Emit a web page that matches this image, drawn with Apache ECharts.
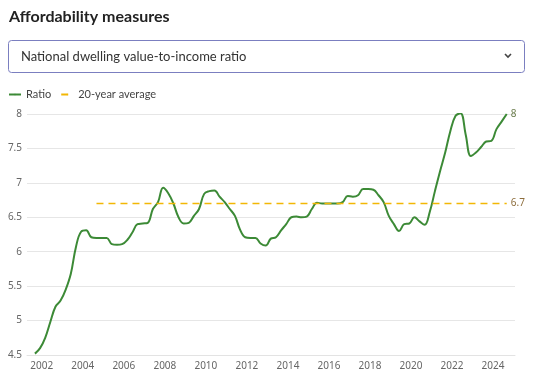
<!DOCTYPE html>
<html><head><meta charset="utf-8">
<script src="https://cdn.jsdelivr.net/npm/echarts@6/dist/echarts.min.js"></script>
<style>html,body{margin:0;padding:0;background:#fff}#c{width:550px;height:383px}</style>
</head><body><div id="c"></div>
<script>
const dates = ["2001-09","2001-12","2002-03","2002-06","2002-09","2002-12","2003-03","2003-06","2003-09","2003-12",
"2004-03","2004-06","2004-09","2004-12","2005-03","2005-06","2005-09","2005-12","2006-03","2006-06","2006-09","2006-12",
"2007-03","2007-06","2007-09","2007-12","2008-03","2008-06","2008-09","2008-12","2009-03","2009-06","2009-09","2009-12",
"2010-03","2010-06","2010-09","2010-12","2011-03","2011-06","2011-09","2011-12","2012-03","2012-06","2012-09","2012-12",
"2013-03","2013-06","2013-09","2013-12","2014-03","2014-06","2014-09","2014-12","2015-03","2015-06","2015-09","2015-12",
"2016-03","2016-06","2016-09","2016-12","2017-03","2017-06","2017-09","2017-12","2018-03","2018-06","2018-09","2018-12",
"2019-03","2019-06","2019-09","2019-12","2020-03","2020-06","2020-09","2020-12","2021-03","2021-06","2021-09","2021-12",
"2022-03","2022-06","2022-09","2022-12","2023-03","2023-06","2023-09","2023-12","2024-03","2024-06","2024-09"];
const ratio = [4.52,4.60,4.75,4.98,5.20,5.29,5.45,5.68,6.07,6.29,
6.31,6.21,6.20,6.20,6.20,6.11,6.10,6.11,6.17,6.28,6.40,6.41,
6.42,6.62,6.72,6.93,6.85,6.70,6.50,6.41,6.42,6.52,6.62,6.84,
6.88,6.89,6.80,6.72,6.62,6.52,6.32,6.21,6.20,6.20,6.12,6.09,
6.19,6.21,6.31,6.40,6.50,6.51,6.50,6.51,6.62,6.71,6.70,6.70,
6.70,6.70,6.72,6.81,6.80,6.82,6.91,6.91,6.90,6.82,6.72,6.52,
6.40,6.30,6.40,6.41,6.50,6.44,6.39,6.58,6.88,7.17,7.44,7.75,
7.97,8.01,7.70,7.39,7.44,7.52,7.60,7.61,7.78,7.89,8.00];
const avgStart = "2004-09", avgEnd = "2024-09";
const avgValue = 6.7;
const xTickYears = [2002,2004,2006,2008,2010,2012,2014,2016,2018,2020,2022,2024];
const seriesNames = ["Ratio","20-year average"];

function toYear(s){const p=s.split("-");return +p[0]+(+p[1]-1)/12;}
const ratioData = dates.map((d,i)=>[toYear(d), ratio[i]]);
const avgData = [[toYear(avgStart),avgValue],[toYear(avgEnd),avgValue]];
const font = "'Noto Sans', sans-serif";
const uiFont = "Lato, 'Noto Sans', sans-serif";

const chart = echarts.init(document.getElementById('c'), null, {renderer:'canvas'});
chart.setOption({
  animation:false,
  textStyle:{fontFamily:font},
  title:{text:"Affordability measures", left:4, top:4,
    textStyle:{fontFamily:uiFont,fontSize:16,fontWeight:'bold',color:'#222'}},
  graphic:[
    {type:'rect', shape:{x:8.5,y:40.5,width:516,height:32,r:3},
     style:{fill:'#fff',stroke:'#7b7fc0',lineWidth:1}},
    {type:'text', x:21, y:56.5, style:{text:"National dwelling value-to-income ratio",
      font:"13px Lato, 'Noto Sans', sans-serif", fill:'#333', verticalAlign:'middle'}},
    {type:'polyline', shape:{points:[[505,54],[508,57],[511,54]]},
     style:{stroke:'#444',lineWidth:1.6,fill:null}}
  ],
  legend:{left:3, top:84, itemWidth:12, itemHeight:2, itemGap:9,
    textStyle:{fontSize:11,color:'#444',fontFamily:uiFont},
    data:seriesNames},
  grid:{left:27,right:35,top:114,bottom:28,containLabel:false},
  xAxis:{type:'value', min:2001.28, max:2025.07,
    axisLine:{show:true,lineStyle:{color:'#e3e3e3'}},
    axisTick:{show:false},
    splitLine:{show:false},
    axisLabel:{customValues:xTickYears, color:'#666', fontSize:10, margin:6,
      formatter:v=>String(Math.round(v))}},
  yAxis:{type:'value', min:4.5, max:8, interval:0.5,
    axisLine:{show:false}, axisTick:{show:false},
    splitLine:{lineStyle:{color:'#e6e6e6'}},
    axisLabel:{color:'#666', fontSize:10, margin:5}},
  series:[
    {name:seriesNames[0], type:'line', data:ratioData, smooth:0.4, symbol:'none',
     lineStyle:{color:'#3c8a36',width:2}, itemStyle:{color:'#3c8a36'},
     endLabel:{show:true, formatter:p=>String(+p.value[1].toFixed(1)), color:'#6b7d4d', fontSize:10, distance:4}},
    {name:seriesNames[1], type:'line', data:avgData, symbol:'none',
     lineStyle:{color:'#f2b705',width:1.5,type:[7,5]}, itemStyle:{color:'#f2b705'},
     endLabel:{show:true, formatter:p=>String(p.value[1]), color:'#8d6d3c', fontSize:10, distance:4}}
  ]
});
</script></body></html>
